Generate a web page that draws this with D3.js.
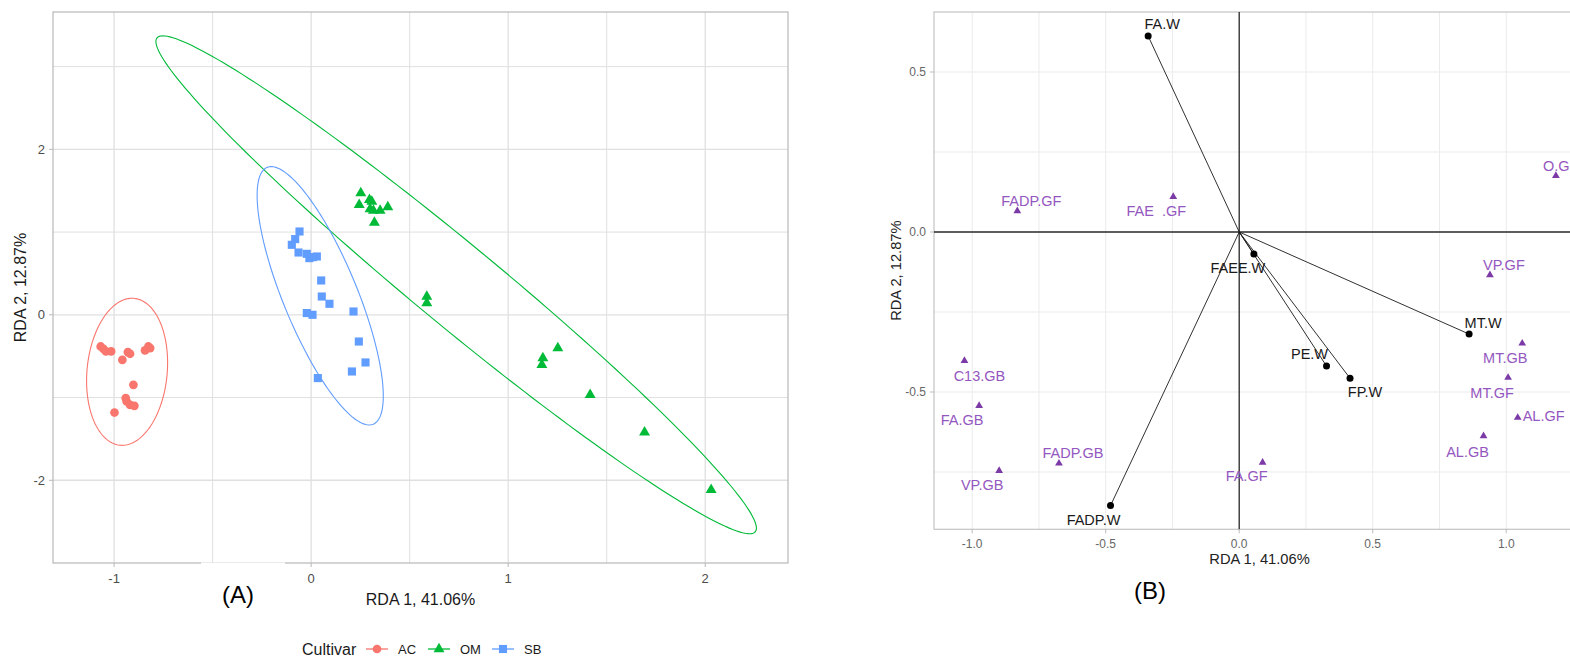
<!DOCTYPE html>
<html><head><meta charset="utf-8">
<script src="https://cdn.jsdelivr.net/npm/d3@7"></script>
<style>
body{margin:0;background:#fff;}
svg{display:block;font-family:"Liberation Sans",Arial,sans-serif;}
</style></head>
<body><svg id="c" width="1570" height="658"></svg>
<script>
// ---------- Panel A data ----------
const cultivars = ["AC","OM","SB"];
const acX = [-1.068,-1.054,-1.041,-1.015,-0.958,-0.930,-0.919,-0.843,-0.826,-0.817,-0.902,-0.941,-0.936,-0.919,-0.897,-0.998];
const acY = [-0.383,-0.411,-0.443,-0.443,-0.544,-0.451,-0.471,-0.431,-0.383,-0.402,-0.846,-1.007,-1.048,-1.088,-1.100,-1.181];
const omX = [0.252,0.244,0.296,0.308,0.299,0.316,0.350,0.389,0.321,0.587,0.587,1.252,1.176,1.171,1.416,1.692,2.030];
const omY = [1.471,1.329,1.390,1.369,1.277,1.260,1.260,1.302,1.115,0.221,0.141,-0.402,-0.523,-0.604,-0.967,-1.422,-2.115];
const sbX = [-0.059,-0.081,-0.098,-0.064,-0.022,-0.009,0.009,0.029,0.051,0.054,0.093,-0.022,0.007,0.215,0.242,0.276,0.207,0.034];
const sbY = [1.007,0.915,0.846,0.753,0.737,0.685,0.697,0.705,0.415,0.221,0.133,0.021,0.000,0.040,-0.323,-0.576,-0.685,-0.765];
// ellipse: [centerX, centerY, semiDiamA_x, semiDiamA_y, semiDiamB_x, semiDiamB_y]
const ellipseAC = [-0.934,-0.689, 0.000,0.882, 0.2056,0.109];
const ellipseOM = [0.736,0.3625, 1.518,-2.985, -0.1325,-0.382];
const ellipseSB = [0.046,0.230, -0.269,1.552, 0.1736,0.170];
const xTicksA = [-1,0,1,2];
const yTicksA = [-2,0,2];
const xMinorA = [-0.5,0.5,1.5];
const yMinorA = [-1,1,3];

// ---------- Panel B data ----------
const envNames = ["FA.W","FAEE.W","MT.W","PE.W","FP.W","FADP.W"];
const envX = [-0.341,0.055,0.861,0.327,0.415,-0.482];
const envY = [0.6125,-0.069,-0.319,-0.419,-0.457,-0.855];
const spNames = ["FADP.GF","FAE  .GF","O.GF","VP.GF","MT.GB","MT.GF","AL.GF","AL.GB","FA.GF","C13.GB","FA.GB","FADP.GB","VP.GB"];
const spX = [-0.831,-0.247,1.186,0.939,1.060,1.007,1.043,0.915,0.0876,-1.029,-0.974,-0.675,-0.899];
const spY = [0.0656,0.110,0.176,-0.134,-0.348,-0.455,-0.580,-0.6375,-0.720,-0.402,-0.543,-0.723,-0.746];
const xTicksB = [-1.0,-0.5,0.0,0.5,1.0];
const yTicksB = [-0.5,0.0,0.5];
const xMinorB = [-0.75,-0.25,0.25,0.75];
const yMinorB = [-0.75,-0.25,0.25];

const colors = {AC:"#F8766D", OM:"#00BA38", SB:"#619CFF"};
const svg = d3.select("#c");

// ================= Panel A =================
const A = {l:53, r:788, t:12, b:563};
const xA = d3.scaleLinear().domain([-1.31,2.42]).range([A.l,A.r]);
const yA = d3.scaleLinear().domain([-3.0,3.66]).range([A.b,A.t]);
const gA = svg.append("g");
const gridC = "#e0e0e0";
gA.selectAll(".gxm").data(xMinorA).join("line").attr("x1",d=>xA(d)).attr("x2",d=>xA(d)).attr("y1",A.t).attr("y2",A.b).attr("stroke",gridC).attr("stroke-width",1);
gA.selectAll(".gym").data(yMinorA).join("line").attr("y1",d=>yA(d)).attr("y2",d=>yA(d)).attr("x1",A.l).attr("x2",A.r).attr("stroke",gridC).attr("stroke-width",1);
gA.selectAll(".gx").data(xTicksA).join("line").attr("x1",d=>xA(d)).attr("x2",d=>xA(d)).attr("y1",A.t).attr("y2",A.b).attr("stroke",gridC).attr("stroke-width",1.3);
gA.selectAll(".gy").data(yTicksA).join("line").attr("y1",d=>yA(d)).attr("y2",d=>yA(d)).attr("x1",A.l).attr("x2",A.r).attr("stroke",gridC).attr("stroke-width",1.3);

// ellipses
function ellPath(e, xs, ys){
  const pts = d3.range(0,201).map(i=>{const t=i/200*2*Math.PI;
    return [xs(e[0]+e[2]*Math.cos(t)+e[4]*Math.sin(t)), ys(e[1]+e[3]*Math.cos(t)+e[5]*Math.sin(t))];});
  return d3.line()(pts)+"Z";
}
[[ellipseAC,"AC"],[ellipseOM,"OM"],[ellipseSB,"SB"]].forEach(([e,k])=>{
  gA.append("path").attr("d",ellPath(e,xA,yA)).attr("fill","none").attr("stroke",colors[k]).attr("stroke-width",1.1);
});
// points
const symCircle = d3.symbol().type(d3.symbolCircle).size(60);
const symTri = d3.symbol().type(d3.symbolTriangle).size(52);
const symSq = d3.symbol().type(d3.symbolSquare).size(66);
gA.selectAll(".ac").data(d3.range(acX.length)).join("path").attr("d",symCircle)
  .attr("transform",i=>`translate(${xA(acX[i])},${yA(acY[i])})`).attr("fill",colors.AC);
gA.selectAll(".om").data(d3.range(omX.length)).join("path").attr("d",symTri)
  .attr("transform",i=>`translate(${xA(omX[i])},${yA(omY[i])})`).attr("fill",colors.OM);
gA.selectAll(".sb").data(d3.range(sbX.length)).join("path").attr("d",symSq)
  .attr("transform",i=>`translate(${xA(sbX[i])},${yA(sbY[i])})`).attr("fill",colors.SB);
// border
gA.append("rect").attr("x",A.l).attr("y",A.t).attr("width",A.r-A.l).attr("height",A.b-A.t).attr("fill","none").attr("stroke","#b8b8b8").attr("stroke-width",1.2);
// axes ticks
gA.selectAll(".tx").data(xTicksA).join("line").attr("x1",d=>xA(d)).attr("x2",d=>xA(d)).attr("y1",A.b).attr("y2",A.b+4).attr("stroke","#b8b8b8");
gA.selectAll(".ty").data(yTicksA).join("line").attr("y1",d=>yA(d)).attr("y2",d=>yA(d)).attr("x1",A.l-4).attr("x2",A.l).attr("stroke","#b8b8b8");
gA.selectAll(".lx").data(xTicksA).join("text").attr("x",d=>xA(d)).attr("y",A.b+20).attr("text-anchor","middle")
  .attr("font-size",13).attr("fill","#4d4d4d").text(d=>d);
gA.selectAll(".ly").data(yTicksA).join("text").attr("x",A.l-8).attr("y",d=>yA(d)).attr("dy","0.35em").attr("text-anchor","end")
  .attr("font-size",13).attr("fill","#4d4d4d").text(d=>d);
gA.append("text").attr("x",(A.l+A.r)/2).attr("y",605).attr("text-anchor","middle").attr("font-size",16).attr("fill","#1a1a1a").text("RDA 1, 41.06%");
gA.append("text").attr("transform",`translate(26,${(A.t+A.b)/2}) rotate(-90)`).attr("text-anchor","middle").attr("font-size",16).attr("fill","#1a1a1a").text("RDA 2, 12.87%");
// (A) label box
gA.append("rect").attr("x",201).attr("y",562.5).attr("width",84).attr("height",50).attr("fill","#fff");
gA.append("text").attr("x",238).attr("y",603).attr("text-anchor","middle").attr("font-size",24).attr("fill","#000").text("(A)");
// legend
const leg = gA.append("g");
leg.append("text").attr("x",302).attr("y",649).attr("dy","0.35em").attr("font-size",16).attr("fill","#1a1a1a").text("Cultivar");
const legX = {AC:366, OM:428, SB:492};
const legSym = {AC:symCircle, OM:symTri, SB:symSq};
cultivars.forEach(k=>{
  const x0 = legX[k];
  leg.append("line").attr("x1",x0).attr("x2",x0+22).attr("y1",649).attr("y2",649).attr("stroke",colors[k]).attr("stroke-width",1.3);
  leg.append("path").attr("d",legSym[k]).attr("transform",`translate(${x0+11},649)`).attr("fill",colors[k]);
  leg.append("text").attr("x",x0+32).attr("y",649).attr("dy","0.35em").attr("font-size",13).attr("fill","#1a1a1a").text(k);
});

// ================= Panel B =================
const B = {l:934, r:1585, t:12, b:529.3};
const xB = d3.scaleLinear().domain([-1.143,1.295]).range([B.l,B.r]);
const yB = d3.scaleLinear().domain([-0.929,0.6875]).range([B.b,B.t]);
const gB = svg.append("g");
const gridB = "#ebebeb";
gB.selectAll(".gxm").data(xMinorB.concat(xTicksB)).join("line").attr("x1",d=>xB(d)).attr("x2",d=>xB(d)).attr("y1",B.t).attr("y2",B.b).attr("stroke",gridB).attr("stroke-width",1);
gB.selectAll(".gym").data(yMinorB.concat(yTicksB)).join("line").attr("y1",d=>yB(d)).attr("y2",d=>yB(d)).attr("x1",B.l).attr("x2",B.r).attr("stroke",gridB).attr("stroke-width",1);
gB.append("rect").attr("x",B.l).attr("y",B.t).attr("width",B.r-B.l).attr("height",B.b-B.t).attr("fill","none").attr("stroke","#c4c4c4").attr("stroke-width",1.2);
// zero lines
gB.append("line").attr("x1",xB(0)).attr("x2",xB(0)).attr("y1",B.t).attr("y2",B.b).attr("stroke","#2a2a2a").attr("stroke-width",1.3);
gB.append("line").attr("y1",yB(0)).attr("y2",yB(0)).attr("x1",B.l).attr("x2",B.r).attr("stroke","#2a2a2a").attr("stroke-width",1.3);
// ticks
gB.selectAll(".tx").data(xTicksB).join("line").attr("x1",d=>xB(d)).attr("x2",d=>xB(d)).attr("y1",B.b).attr("y2",B.b+4).attr("stroke","#bbb");
gB.selectAll(".ty").data(yTicksB).join("line").attr("y1",d=>yB(d)).attr("y2",d=>yB(d)).attr("x1",B.l-4).attr("x2",B.l).attr("stroke","#bbb");
gB.selectAll(".lx").data(xTicksB).join("text").attr("x",d=>xB(d)).attr("y",B.b+14).attr("dy","0.35em").attr("text-anchor","middle")
  .attr("font-size",12).attr("fill","#666").text(d=>d.toFixed(1));
gB.selectAll(".ly").data(yTicksB).join("text").attr("x",B.l-8).attr("y",d=>yB(d)).attr("dy","0.35em").attr("text-anchor","end")
  .attr("font-size",12).attr("fill","#666").text(d=>d.toFixed(1));
gB.append("text").attr("x",1259.5).attr("y",559).attr("dy","0.35em").attr("text-anchor","middle").attr("font-size",14.7).attr("fill","#222").text("RDA 1, 41.06%");
gB.append("text").attr("transform",`translate(896,${(B.t+B.b)/2}) rotate(-90)`).attr("dy","0.35em").attr("text-anchor","middle").attr("font-size",14.7).attr("fill","#222").text("RDA 2, 12.87%");
gB.append("text").attr("x",1150).attr("y",591).attr("dy","0.35em").attr("text-anchor","middle").attr("font-size",24).attr("fill","#000").text("(B)");

// arrows
gB.selectAll(".seg").data(d3.range(envNames.length)).join("line")
  .attr("x1",xB(0)).attr("y1",yB(0)).attr("x2",i=>xB(envX[i])).attr("y2",i=>yB(envY[i])).attr("stroke","#1a1a1a").attr("stroke-width",0.9);
gB.selectAll(".dot").data(d3.range(envNames.length)).join("circle")
  .attr("cx",i=>xB(envX[i])).attr("cy",i=>yB(envY[i])).attr("r",3.5).attr("fill","#000");
const envNudge = {"FA.W":[14,-12],"FAEE.W":[-16,14],"MT.W":[14,-11],"PE.W":[-17,-12],"FP.W":[15,14],"FADP.W":[-17,14]};
gB.selectAll(".envl").data(d3.range(envNames.length)).join("text")
  .attr("x",i=>xB(envX[i])+envNudge[envNames[i]][0]).attr("y",i=>yB(envY[i])+envNudge[envNames[i]][1]).attr("dy","0.35em")
  .attr("text-anchor","middle").attr("font-size",14.5).attr("fill","#1a1a1a").text(i=>envNames[i]);

// species
const symTriB = d3.symbol().type(d3.symbolTriangle).size(26);
gB.selectAll(".sp").data(d3.range(spNames.length)).join("path").attr("d",symTriB)
  .attr("transform",i=>`translate(${xB(spX[i])},${yB(spY[i])})`).attr("fill","#7b3aa6");
const spNudge = {"FADP.GF":[14,-10,"middle"],"FAE  .GF":[-17,14,"middle"],"O.GF":[-13,-10,"start"],"VP.GF":[14,-10,"middle"],
  "MT.GB":[-17,15,"middle"],"MT.GF":[-16,15,"middle"],"AL.GF":[5,-2,"start"],"AL.GB":[-16,16,"middle"],"FA.GF":[-16,14,"middle"],
  "C13.GB":[15,15,"middle"],"FA.GB":[-17,14,"middle"],"FADP.GB":[14,-10,"middle"],"VP.GB":[-17,14,"middle"]};
gB.selectAll(".spl").data(d3.range(spNames.length)).join("text")
  .attr("x",i=>xB(spX[i])+spNudge[spNames[i]][0]).attr("y",i=>yB(spY[i])+spNudge[spNames[i]][1]).attr("dy","0.35em")
  .attr("text-anchor",i=>spNudge[spNames[i]][2]).attr("font-size",14.5).attr("fill","#9457c0")
  .style("white-space","pre").attr("xml:space","preserve").text(i=>spNames[i]);
</script></body></html>
